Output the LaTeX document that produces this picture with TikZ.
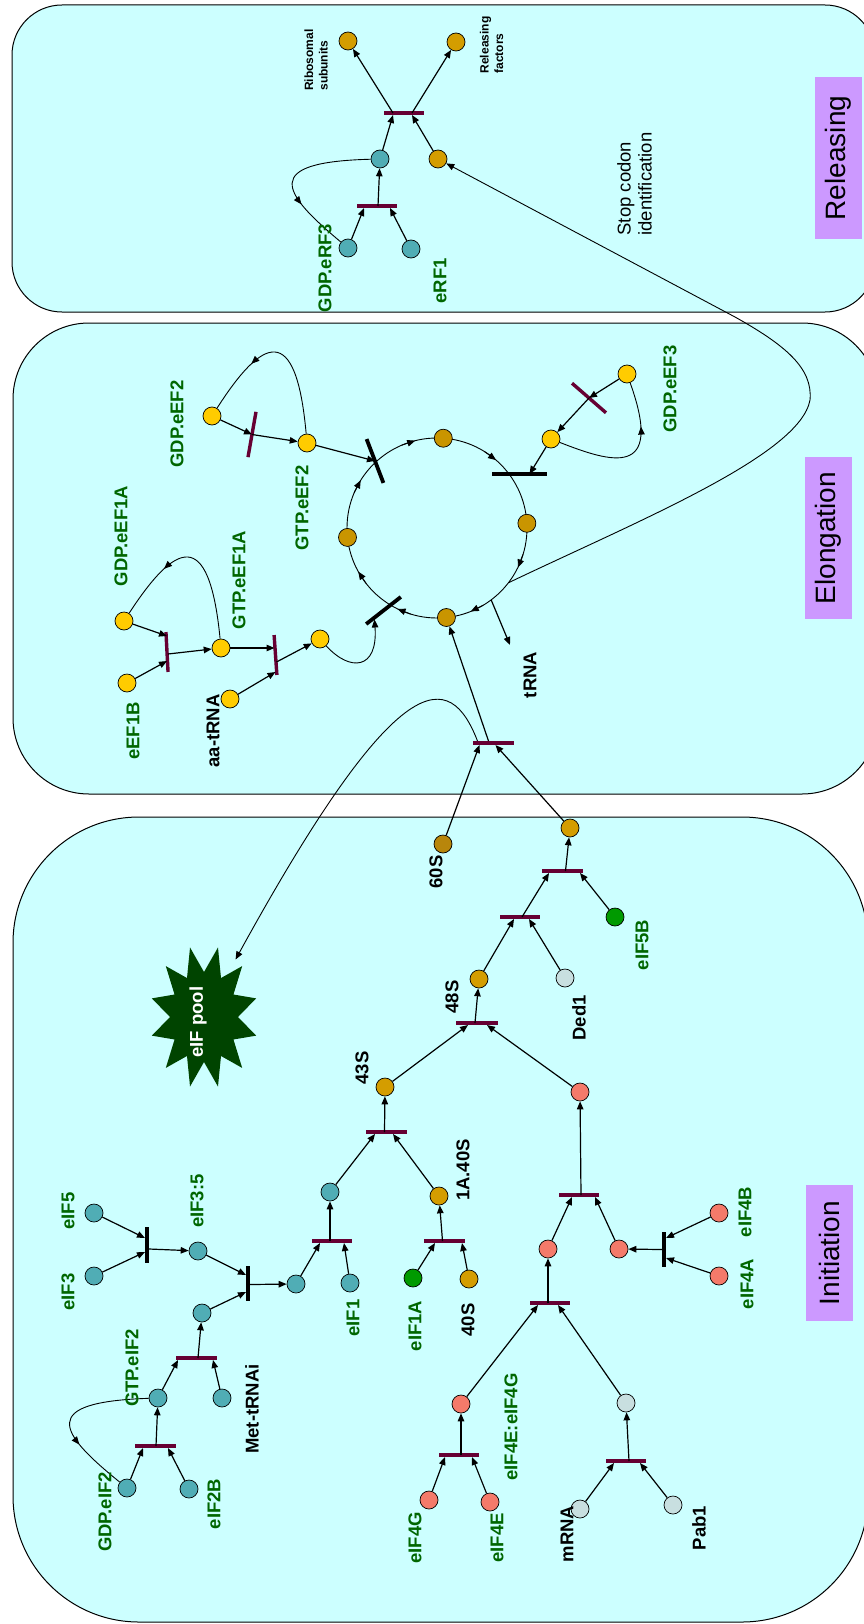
\documentclass[tikz,border=0pt]{standalone}
\usepackage{fontspec}
\setmainfont{Liberation Sans}
\usetikzlibrary{arrows.meta,calc,decorations.markings,shapes.geometric}

\definecolor{boxfill}{HTML}{CCFFFF}
\definecolor{stagefill}{HTML}{CC99FF}
\definecolor{lblgreen}{HTML}{006600}
\definecolor{barred}{HTML}{660033}
\definecolor{tealc}{HTML}{50ADB5}
\definecolor{goldc}{HTML}{D49D00}
\definecolor{cycgold}{HTML}{C99500}
\definecolor{brownc}{HTML}{B8860B}
\definecolor{yellowc}{HTML}{FFCC00}
\definecolor{salmonc}{HTML}{F47A6A}
\definecolor{greyc}{HTML}{C8DFE0}
\definecolor{greenc}{HTML}{009A00}
\definecolor{poolc}{HTML}{004400}

\begin{document}
\begin{tikzpicture}[x=1pt,y=-1pt,
  mol/.style={circle,draw=black,line width=0.7pt,minimum size=18pt,inner sep=0pt,fill=#1},
  mbar/.style={rectangle,fill=barred,minimum width=#1,minimum height=3.4pt,inner sep=0pt,outer sep=0pt},
  kbar/.style={rectangle,fill=black,minimum width=#1,minimum height=3.8pt,inner sep=0pt,outer sep=0pt},
  endtip/.style={-{Triangle[length=8pt,width=6.5pt]}},
  arr/.style={line width=1.2pt,endtip},
  thinline/.style={line width=0.9pt},
  midarr/.style={postaction={decorate},decoration={markings,mark=at position #1 with {\arrow{Triangle[length=8pt,width=6.5pt]}}}},
  gl/.style={rotate=90,inner sep=0pt,text=lblgreen,font=\bfseries\fontsize{18.5}{20}\selectfont},
  bl/.style={rotate=90,inner sep=0pt,text=black,font=\bfseries\fontsize{18.5}{20}\selectfont},
  sl/.style={rotate=90,inner sep=0pt,align=left,font=\bfseries\fontsize{12}{14.5}\selectfont},
  stage/.style={rotate=90,fill=stagefill,minimum height=47pt,inner sep=0pt,font=\fontsize{28}{30}\selectfont},
  panel/.style={draw=black,line width=1pt,fill=boxfill}
]
\useasboundingbox (0,0) rectangle (864,1624);

% ---------- the three stage panels ----------
\draw[panel,rounded corners=50pt] (12,5) rectangle (875,312);
\draw[panel,rounded corners=76pt] (13,323) rectangle (878,794);
\draw[panel,rounded corners=126pt] (13,817) rectangle (868,1622);

\node[stage,minimum width=162pt] (stR) at (838.5,158) {Releasing};
\node[stage,minimum width=162pt] (stE) at (828,538) {Elongation};
\node[stage,minimum width=136pt] (stI) at (829.5,1253) {Initiation};

% ---------- elongation cycle ----------
\coordinate (cc) at (437,528);
\draw[thinline] (cc) circle[radius=90pt];
\foreach \a in {-148,-104,-49,26,68,116,151}
  \draw[thinline,endtip] ($(cc)+(\a-9:90)$) -- ($(cc)+(\a:90)$);
\coordinate (cyc37) at ($(cc)+(37.5:90)$);
\coordinate (cyc53) at ($(cc)+(53:90)$);
\coordinate (trnaend) at (510,645);

\node[kbar=47pt,rotate=-69] (bE2) at (375,461) {};
\node[kbar=55pt] (bE3) at (519.5,474) {};
\node[kbar=44pt,rotate=38] (bE4) at (383.5,610.5) {};

\node[mol=cycgold] (ct) at ($(cc)+(-86:90)$) {};
\node[mol=cycgold] (cr) at ($(cc)+(-3:90)$) {};
\node[mol=cycgold] (cb) at ($(cc)+(84:90)$) {};
\node[mol=cycgold] (cl) at ($(cc)+(174:90)$) {};

% ---------- eIF pool ----------
\begin{scope}[shift={(204,1017)}]
  \fill[poolc] (-15:54 and 72) \foreach \a in {0,30,...,330} { -- (\a:34 and 45) -- (\a+15:54 and 72) } -- cycle;
\end{scope}
\node[ellipse,minimum width=104pt,minimum height=144pt,inner sep=0pt] (pool) at (204,1017) {};
\node[rotate=90,inner sep=0pt,text=white,font=\bfseries\fontsize{18.5}{20}\selectfont] (lpool) at (198,1022) {eIF pool};

% ---------- releasing: species and transitions ----------
\node[mol=goldc] (ribs) at (348,41) {};
\node[mol=goldc] (relf) at (456,42) {};
\node[mol=tealc] (rcx) at (380,159) {};
\node[mol=goldc] (rf1b) at (438,159) {};
\node[mol=tealc] (gdperf3) at (348,248) {};
\node[mol=tealc] (erf1) at (411,249) {};
\node[mbar=40pt] (bR1) at (404,113) {};
\node[mbar=40pt] (bR2) at (377,206) {};

% ---------- elongation: species and transitions ----------
\node[mol=yellowc] (gdpeef2) at (212,416) {};
\node[mol=yellowc] (gtpeef2) at (307,443) {};
\node[mol=yellowc] (gdpeef1a) at (124,621) {};
\node[mol=yellowc] (gtpeef1a) at (221,648) {};
\node[mol=yellowc] (eef1b) at (127,683) {};
\node[mol=yellowc] (aatrna) at (230,699) {};
\node[mol=yellowc] (aacx) at (320,639) {};
\node[mol=yellowc] (gdpeef3) at (627,374) {};
\node[mol=yellowc] (gtpeef3) at (551,439) {};
\node[mbar=46pt,rotate=80] (bE1) at (252,434.5) {};
\node[mbar=40pt,rotate=93] (bE5) at (167,652) {};
\node[mbar=40pt,rotate=94] (bE6) at (275.5,655) {};
\node[mbar=45pt,rotate=-41] (bE7) at (589,398) {};
\node[mbar=41pt] (bE8) at (493.5,743) {};

% ---------- initiation: species and transitions ----------
\node[mol=brownc] (n60s) at (443,844) {};
\node[mol=goldc] (n5b) at (570,828) {};
\node[mol=greenc] (eif5b) at (615,917) {};
\node[mol=goldc] (n48s) at (479,979) {};
\node[mol=greyc] (ded1) at (565,978) {};
\node[mol=goldc] (n43s) at (385,1087) {};
\node[mol=salmonc] (s4top) at (580,1092) {};
\node[mol=tealc] (cy1) at (330,1192) {};
\node[mol=goldc] (n1a40s) at (439,1196) {};
\node[mol=greenc] (eif1a) at (413,1278) {};
\node[mol=goldc] (n40s) at (469,1279) {};
\node[mol=tealc] (cy2) at (296,1284) {};
\node[mol=tealc] (eif1) at (350,1283) {};
\node[mol=tealc] (eif35) at (198,1251) {};
\node[mol=tealc] (eif5) at (94,1213) {};
\node[mol=tealc] (eif3) at (94,1276) {};
\node[mol=tealc] (metcx) at (202,1313) {};
\node[mol=tealc] (gtpeif2) at (158,1398) {};
\node[mol=tealc] (mettrna) at (222,1398) {};
\node[mol=tealc] (gdpeif2) at (127,1488) {};
\node[mol=tealc] (eif2b) at (189,1489) {};
\node[mol=salmonc] (sL) at (548,1249) {};
\node[mol=salmonc] (sR) at (619,1249) {};
\node[mol=salmonc] (eif4b) at (719,1213) {};
\node[mol=salmonc] (eif4a) at (719,1276) {};
\node[mol=salmonc] (s4eg) at (461,1404) {};
\node[mol=salmonc] (eif4g) at (429,1500) {};
\node[mol=salmonc] (eif4e) at (490,1502) {};
\node[mol=greyc] (mpab) at (626,1403) {};
\node[mol=greyc] (mrna) at (580,1509) {};
\node[mol=greyc] (pab1) at (673,1505) {};

\node[mbar=41pt] (bI1) at (562.5,871) {};
\node[mbar=40pt] (bI2) at (520,917) {};
\node[mbar=42pt] (bI3) at (477,1023) {};
\node[mbar=41pt] (bI4) at (386.5,1132) {};
\node[mbar=41pt] (bI5) at (444.5,1241) {};
\node[mbar=40pt] (bI6) at (332,1241) {};
\node[kbar=35pt,rotate=90] (bK1) at (248,1283.5) {};
\node[kbar=36pt,rotate=90] (bK2) at (147,1245) {};
\node[mbar=41pt] (bI7) at (196.5,1358) {};
\node[mbar=41pt] (bI8) at (155.5,1446) {};
\node[mbar=40pt] (bI9) at (579,1195) {};
\node[kbar=35pt,rotate=90] (bK3) at (664,1249.5) {};
\node[mbar=40pt] (bI10) at (550,1303) {};
\node[mbar=40pt] (bI11) at (459,1455) {};
\node[mbar=40pt] (bI12) at (626,1461) {};

% ---------- releasing connectors ----------
\draw[arr] ($(bR1)+(-11,0)$) -- (ribs);
\draw[arr] ($(bR1)+(8,0)$) -- (relf);
\draw[arr] (rcx) -- ($(bR1)+(-11,2)$);
\draw[arr] (rf1b) -- ($(bR1)+(8,2)$);
\draw[arr] ($(bR2)+(1,0)$) -- (rcx);
\draw[arr] (gdperf3) -- ($(bR2)+(-13,2)$);
\draw[arr] (erf1) -- ($(bR2)+(13,2)$);
\draw[thinline,midarr=0.67] (rcx) .. controls (261,162) and (281,192) .. (gdperf3);
\draw[thinline,endtip] (cyc37) .. controls (640,520) and (800,455) .. (810,400)
   .. controls (813,368) and (785,345) .. (735,317) -- (rf1b);

% ---------- elongation connectors ----------
\draw[arr] (gdpeef2) -- (bE1.center);
\draw[arr] (bE1.center) -- (gtpeef2);
\draw[thinline,midarr=0.68] (gtpeef2) .. controls (296,320) and (262,338) .. (gdpeef2);
\draw[arr] (gtpeef2) -- (bE2.center);
\draw[arr] (gdpeef3) -- (bE7.center);
\draw[arr] (bE7.center) -- (gtpeef3);
\draw[thinline,midarr=0.7] (gtpeef3) .. controls (610,462) and (665,480) .. (gdpeef3);
\draw[arr] (gtpeef3) -- ($(bE3)+(10,0)$);
\draw[arr] (gdpeef1a) -- ($(bE5)+(0,-16)$);
\draw[arr] (eef1b) -- ($(bE5)+(0,9)$);
\draw[arr] ($(bE5)+(1,2)$) -- (gtpeef1a);
\draw[thinline,midarr=0.68] (gtpeef1a) .. controls (209,525) and (175,543) .. (gdpeef1a);
\draw[arr] (gtpeef1a) -- ($(bE6)+(-1,-7)$);
\draw[arr] (aatrna) -- ($(bE6)+(0,17)$);
\draw[arr] ($(bE6)+(1,7)$) -- (aacx);
\draw[thinline,endtip] (aacx) .. controls (350,672) and (378,670) .. ($(bE4)+(-9,9)$);
\draw[arr] (cyc53) -- (trnaend);
\draw[arr] ($(bE8)+(-5,-2)$) -- (cb);
\draw[arr] (n60s) -- ($(bE8)+(-14,2)$);
\draw[arr] (n5b) -- ($(bE8)+(2,2)$);
\draw[thinline,endtip] ($(bE8)+(-16,-2)$) .. controls (450,670) and (400,660) .. (pool);

% ---------- initiation connectors ----------
\draw[arr] ($(bI1)+(3,0)$) -- (n5b);
\draw[arr] ($(bI2)+(2,0)$) -- ($(bI1)+(-13.5,2)$);
\draw[arr] (eif5b) -- ($(bI1)+(17.5,2)$);
\draw[arr] (n48s) -- ($(bI2)+(-6,2)$);
\draw[arr] (ded1) -- ($(bI2)+(9,2)$);
\draw[arr] ($(bI3)+(-2,0)$) -- (n48s);
\draw[arr] (n43s) -- ($(bI3)+(-9,2)$);
\draw[arr] (s4top) -- ($(bI3)+(10,2)$);
\draw[arr] ($(bI4)+(-2,0)$) -- (n43s);
\draw[arr] (cy1) -- ($(bI4)+(-11.5,2)$);
\draw[arr] (n1a40s) -- ($(bI4)+(6.5,2)$);
\draw[arr] ($(bI5)+(-2,0)$) -- (n1a40s);
\draw[arr] (eif1a) -- ($(bI5)+(-9.5,2)$);
\draw[arr] (n40s) -- ($(bI5)+(17.5,2)$);
\draw[arr] ($(bI6)+(-2,0)$) -- (cy1);
\draw[arr] (cy2) -- ($(bI6)+(-12,2)$);
\draw[arr] (eif1) -- ($(bI6)+(12,2)$);
\draw[arr] ($(bK1)+(2,1)$) -- (cy2);
\draw[arr] (eif35) -- ($(bK1)+(-2,-8.5)$);
\draw[arr] (metcx) -- ($(bK1)+(-2,8.5)$);
\draw[arr] ($(bK2)+(2,4)$) -- (eif35);
\draw[arr] (eif5) -- ($(bK2)+(-2,-7)$);
\draw[arr] (eif3) -- ($(bK2)+(-2,7)$);
\draw[arr] ($(bI7)+(1.5,0)$) -- (metcx);
\draw[arr] (gtpeif2) -- ($(bI7)+(-18.5,2)$);
\draw[arr] (mettrna) -- ($(bI7)+(16.5,2)$);
\draw[arr] ($(bI8)+(0.5,0)$) -- (gtpeif2);
\draw[arr] (gdpeif2) -- ($(bI8)+(-12.5,2)$);
\draw[arr] (eif2b) -- ($(bI8)+(12.5,2)$);
\draw[thinline,midarr=0.67] (gtpeif2) .. controls (38,1402) and (58,1432) .. (gdpeif2);
\draw[arr] ($(bI9)+(2,0)$) -- (s4top);
\draw[arr] (sL) -- ($(bI9)+(-7,2)$);
\draw[arr] (sR) -- ($(bI9)+(16,2)$);
\draw[arr] ($(bK3)+(-2,0)$) -- (sR);
\draw[arr] (eif4b) -- ($(bK3)+(2,-11.5)$);
\draw[arr] (eif4a) -- ($(bK3)+(2,8.5)$);
\draw[arr] ($(bI10)+(-2,0)$) -- (sL);
\draw[arr] (s4eg) -- ($(bI10)+(-12,2)$);
\draw[arr] (mpab) -- ($(bI10)+(8,2)$);
\draw[arr] ($(bI11)+(2,0)$) -- (s4eg);
\draw[arr] (eif4g) -- ($(bI11)+(-14,2)$);
\draw[arr] (eif4e) -- ($(bI11)+(13,2)$);
\draw[arr] ($(bI12)+(3,0)$) -- (mpab);
\draw[arr] (mrna) -- ($(bI12)+(-12,2)$);
\draw[arr] (pab1) -- ($(bI12)+(14,2)$);

% ---------- labels: releasing ----------
\node[sl] (lRib) at (316,60) {Ribosomal\\subunits};
\node[sl] (lRel) at (491.5,45) {Releasing\\factors};
\node[gl] (lgdperf3) at (325,268) {GDP.eRF3};
\node[gl] (lerf1) at (440,281) {eRF1};
\node[rotate=90,inner sep=0pt,align=left,font=\fontsize{18.5}{21}\selectfont] (lstop) at (634.5,184) {Stop codon\\identification};

% ---------- labels: elongation ----------
\node[gl] (lgdpeef2) at (177,424) {GDP.eEF2};
\node[gl] (lgtpeef2) at (302,508) {GTP.eEF2};
\node[gl] (lgdpeef1a) at (121,536) {GDP.eEF1A};
\node[gl] (lgtpeef1a) at (239,580) {GTP.eEF1A};
\node[gl] (leef1b) at (133,731) {eEF1B};
\node[bl] (laatrna) at (213,731) {aa-tRNA};
\node[gl] (lgdpeef3) at (670,389) {GDP.eEF3};
\node[bl] (ltrna) at (530,675) {tRNA};
\node[bl] (l60s) at (436,872) {60S};

% ---------- labels: initiation ----------
\node[gl] (leif5b) at (642,945) {eIF5B};
\node[bl] (lded1) at (579,1018) {Ded1};
\node[bl] (l48s) at (452,997) {48S};
\node[bl] (l43s) at (362,1068) {43S};
\node[bl] (l1a40s) at (463,1170) {1A.40S};
\node[gl] (leif1a) at (415,1326) {eIF1A};
\node[bl] (l40s) at (468,1320) {40S};
\node[gl] (leif1) at (353,1318) {eIF1};
\node[gl] (leif5) at (68,1211) {eIF5};
\node[gl] (leif3) at (68,1292) {eIF3};
\node[gl] (leif35) at (197,1201) {eIF3:5};
\node[bl] (lmet) at (252,1409) {Met-tRNAi};
\node[gl] (lgtpeif2) at (132,1368) {GTP.eIF2};
\node[gl] (lgdpeif2) at (105,1512) {GDP.eIF2};
\node[gl] (leif2b) at (214,1504) {eIF2B};
\node[gl] (leif4b) at (745,1212) {eIF4B};
\node[gl] (leif4a) at (747,1284) {eIF4A};
\node[gl] (leif4g) at (415,1538) {eIF4G};
\node[gl] (leif4e) at (497,1538) {eIF4E};
\node[gl] (leif4eg) at (511,1427) {eIF4E:eIF4G};
\node[bl] (lmrna) at (567,1534) {mRNA};
\node[bl] (lpab1) at (699,1528) {Pab1};
\end{tikzpicture}
\end{document}
